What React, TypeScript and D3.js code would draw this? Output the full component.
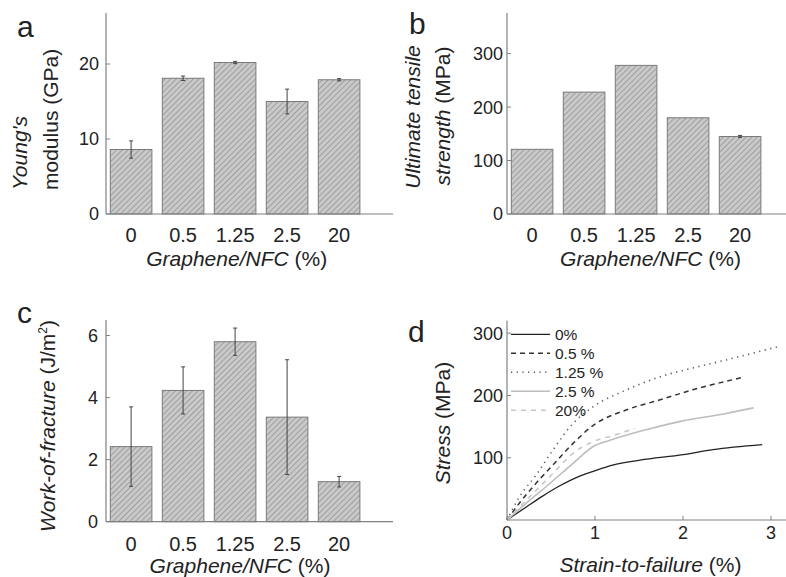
import * as d3 from "d3";

// bar panels: categories shared by a, b, c
const categories = ["0", "0.5", "1.25", "2.5", "20"];
const modulusMean = [8.6, 18.1, 20.2, 15.0, 17.9];
const modulusErr = [1.15, 0.3, 0.15, 1.65, 0.15];
const strengthMean = [121, 228, 278, 180, 145];
const strengthErr = [0, 0, 0, 0, 2];
const workMean = [2.42, 4.23, 5.8, 3.37, 1.29];
const workErr = [1.28, 0.76, 0.44, 1.85, 0.17];

// panel d: stress-strain curves [strain %, stress MPa]
const curveLabels = ["0%", "0.5 %", "1.25 %", "2.5 %", "20%"];
const curve0 = [[0, 0], [0.22, 21], [0.4, 38], [0.6, 55], [0.8, 69], [0.98, 78], [1.2, 88], [1.51, 96], [2.0, 105], [2.34, 113], [2.9, 121]];
const curve05 = [[0, 0], [0.14, 27], [0.33, 59], [0.52, 88], [0.75, 123], [0.98, 152], [1.36, 177], [1.74, 193], [2.11, 209], [2.68, 229]];
const curve125 = [[0, 0], [0.14, 37], [0.33, 72], [0.52, 112], [0.75, 155], [0.98, 182], [1.36, 209], [1.74, 230], [2.11, 244], [2.49, 257], [3.07, 278]];
const curve25 = [[0, 0], [0.22, 27], [0.49, 59], [0.75, 91], [0.98, 118], [1.17, 128], [1.58, 145], [1.96, 158], [2.49, 171], [2.8, 180]];
const curve20 = [[0, 0], [0.22, 32], [0.49, 70], [0.75, 107], [0.98, 126], [1.17, 134], [1.45, 147]];

const AXIS = "#808080";
const TEXT = "#222";
const FONT = "Arial, 'Liberation Sans', sans-serif";

function BarPanel({ range, axisX, axisRight, top, base, yMax, ticks, means, errs, tickGap, tickLabelY, xLabelY, xLabelX }) {
  const x = d3.scaleBand().domain(categories).range(range).paddingInner(0.2).paddingOuter(0.1);
  const y = d3.scaleLinear().domain([0, yMax]).range([base, top]);
  return (
    <g>
      {categories.map((c, i) => (
        <g key={c}>
          <rect x={x(c)} y={y(means[i])} width={x.bandwidth()} height={base - y(means[i])}
            fill="url(#hatch)" stroke="#7a7a7a" strokeWidth={1} />
          {errs[i] > 0 && (
            <g stroke="#444" strokeWidth={1}>
              <line x1={x(c) + x.bandwidth() / 2} x2={x(c) + x.bandwidth() / 2} y1={y(means[i] + errs[i])} y2={y(means[i] - errs[i])} />
              <line x1={x(c) + x.bandwidth() / 2 - 2} x2={x(c) + x.bandwidth() / 2 + 2} y1={y(means[i] + errs[i])} y2={y(means[i] + errs[i])} />
              <line x1={x(c) + x.bandwidth() / 2 - 2} x2={x(c) + x.bandwidth() / 2 + 2} y1={y(means[i] - errs[i])} y2={y(means[i] - errs[i])} />
            </g>
          )}
          <text x={x(c) + x.bandwidth() / 2} y={tickLabelY} textAnchor="middle" fontSize={20} fill={TEXT}>{c}</text>
        </g>
      ))}
      <line x1={axisX} x2={axisX} y1={top} y2={base} stroke={AXIS} strokeWidth={1.2} />
      <line x1={axisX} x2={axisRight} y1={base} y2={base} stroke={AXIS} strokeWidth={1.2} />
      {ticks.map((t) => (
        <g key={t}>
          <line x1={axisX} x2={axisX + 4} y1={y(t)} y2={y(t)} stroke={AXIS} strokeWidth={1} />
          <text x={axisX - tickGap} y={y(t)} dy="0.36em" textAnchor="end" fontSize={18} fill={TEXT}>{t}</text>
        </g>
      ))}
      <text x={xLabelX} y={xLabelY} textAnchor="middle" fontSize={21} fill={TEXT}>
        <tspan fontStyle="italic">Graphene/NFC</tspan> (%)
      </text>
    </g>
  );
}

function CurvePanel() {
  const x = d3.scaleLinear().domain([0, 3.17]).range([507, 786]);
  const y = d3.scaleLinear().domain([0, 320]).range([520, 320.7]);
  const line = d3.line().x((d) => x(d[0])).y((d) => y(d[1])).curve(d3.curveMonotoneX);
  const series = [
    { data: curve0, stroke: "#222", dash: null, w: 1.3 },
    { data: curve05, stroke: "#333", dash: "5,4", w: 1.5 },
    { data: curve125, stroke: "#555", dash: "1.2,4.5", w: 1.6 },
    { data: curve25, stroke: "#bdbdbd", dash: null, w: 1.6 },
    { data: curve20, stroke: "#c8c8c8", dash: "5,5", w: 1.6 },
  ];
  return (
    <g>
      {series.map((s, i) => (
        <path key={i} d={line(s.data)} fill="none" stroke={s.stroke} strokeWidth={s.w} strokeDasharray={s.dash || undefined} />
      ))}
      <line x1={507} x2={507} y1={320.7} y2={520} stroke={AXIS} strokeWidth={1.2} />
      <line x1={507} x2={786} y1={520} y2={520} stroke={AXIS} strokeWidth={1.2} />
      {[100, 200, 300].map((t) => (
        <g key={t}>
          <line x1={507} x2={511} y1={y(t)} y2={y(t)} stroke={AXIS} />
          <text x={503} y={y(t)} dy="0.36em" textAnchor="end" fontSize={18} fill={TEXT}>{t}</text>
        </g>
      ))}
      {[0, 1, 2, 3].map((t) => (
        <g key={t}>
          <line x1={x(t)} x2={x(t)} y1={520} y2={516} stroke={AXIS} />
          <text x={x(t)} y={539.3} textAnchor="middle" fontSize={18} fill={TEXT}>{t}</text>
        </g>
      ))}
      {series.map((s, i) => (
        <g key={i}>
          <line x1={511} x2={550} y1={334.3 + i * 19} y2={334.3 + i * 19} stroke={s.stroke} strokeWidth={s.w} strokeDasharray={s.dash || undefined} />
          <text x={555} y={334.3 + i * 19} dy="0.36em" fontSize={15.5} fill={TEXT}>{curveLabels[i]}</text>
        </g>
      ))}
      <text x={650.5} y={571.5} textAnchor="middle" fontSize={21} fill={TEXT}>
        <tspan fontStyle="italic">Strain-to-failure</tspan> (%)
      </text>
      <text transform="translate(450,423) rotate(-90)" textAnchor="middle" fontSize={21} fill={TEXT}>
        <tspan fontStyle="italic">Stress</tspan> (MPa)
      </text>
    </g>
  );
}

export default function App() {
  return (
    <svg width={786} height={577} style={{ position: "absolute", left: 0, top: 0, background: "#fff" }} fontFamily={FONT}>
      <defs>
        <pattern id="hatch" width={4} height={4} patternUnits="userSpaceOnUse" patternTransform="rotate(45)">
          <rect width={4} height={4} fill="#c9c9c9" />
          <line x1={0} y1={0} x2={0} y2={4} stroke="#8c8c8c" strokeWidth={1.4} />
        </pattern>
      </defs>
      <rect width={786} height={577} fill="#fff" />

      {/* a */}
      <BarPanel range={[105.1, 365.1]} axisX={106} axisRight={393} top={13} base={214} yMax={26.8}
        ticks={[0, 10, 20]} means={modulusMean} errs={modulusErr} tickGap={7} tickLabelY={242} xLabelY={266} xLabelX={236.7} />
      <text x={17} y={37} fontSize={30} fill={TEXT}>a</text>
      <text transform="translate(27,190) rotate(-90)" fontSize={21} fill={TEXT} fontStyle="italic">Young's</text>
      <text transform="translate(58,190) rotate(-90)" fontSize={21} fill={TEXT}>modulus (GPa)</text>

      {/* b */}
      <BarPanel range={[506.1, 766.1]} axisX={507} axisRight={786} top={13} base={214} yMax={376}
        ticks={[0, 100, 200, 300]} means={strengthMean} errs={strengthErr} tickGap={4} tickLabelY={242} xLabelY={266} xLabelX={650.5} />
      <text x={409} y={34} fontSize={30} fill={TEXT}>b</text>
      <text transform="translate(420,117) rotate(-90)" textAnchor="middle" fontSize={21} fill={TEXT} fontStyle="italic">Ultimate tensile</text>
      <text transform="translate(450,116) rotate(-90)" textAnchor="middle" fontSize={21} fill={TEXT}>
        <tspan fontStyle="italic">strength</tspan> (MPa)
      </text>

      {/* c */}
      <BarPanel range={[105.1, 365.1]} axisX={106} axisRight={393} top={320} base={521.7} yMax={6.5}
        ticks={[0, 2, 4, 6]} means={workMean} errs={workErr} tickGap={8} tickLabelY={551} xLabelY={573} xLabelX={240} />
      <text x={17} y={323} fontSize={30} fill={TEXT}>c</text>
      <text transform="translate(55,426) rotate(-90)" textAnchor="middle" fontSize={21} fill={TEXT}>
        <tspan fontStyle="italic">Work-of-fracture</tspan> (J/m<tspan fontSize={12} dy={-8}>2</tspan><tspan dy={8}>)</tspan>
      </text>

      {/* d */}
      <CurvePanel />
      <text x={408} y={342} fontSize={30} fill={TEXT}>d</text>
    </svg>
  );
}
